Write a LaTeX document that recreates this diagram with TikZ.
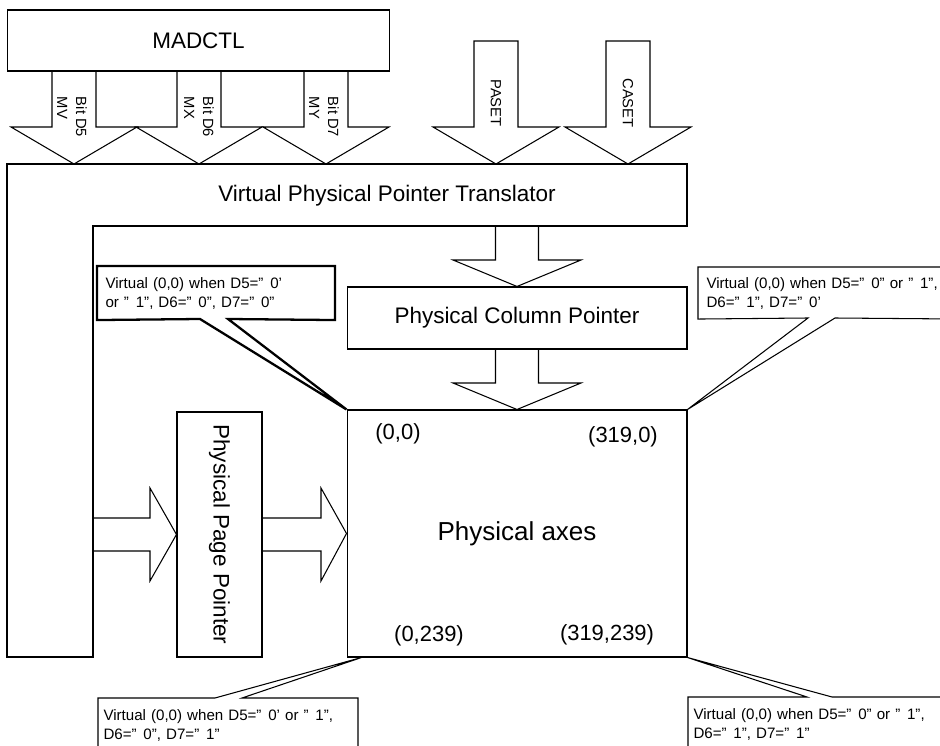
\documentclass[tikz,border=0pt]{standalone}
\usepackage{fontspec}
\setmainfont{Liberation Sans}
\usetikzlibrary{positioning}

% wide closing quote, as the datasheet prints it
\newcommand\wq{”\kern0.45em}

\begin{document}
\begin{tikzpicture}[x=0.02cm, y=-0.02cm, line width=0.6pt,
  label/.style={font=\fontsize{12.8}{15}\selectfont},
  box/.style={draw, inner sep=0pt, label},
  blockarrow/.style={draw, line join=miter},
  tag/.style={rotate=-90, align=left, inner sep=0pt, font=\fontsize{8.4}{10.8}\selectfont},
  corner/.style={font=\fontsize{12.5}{15}\selectfont},
  callout/.style={anchor=north west, align=left, inner xsep=0.16cm, inner ysep=0pt,
    font=\fontsize{8.6}{10.8}\selectfont}]

  \useasboundingbox (0,0) rectangle (940,746);

  % Register block at the top.
  \node[box, minimum width=7.66cm, minimum height=1.22cm] (madctl) at (198.5,40.5) {MADCTL};

  % Block arrows coming down into the translator.
  \foreach \cx/\ya in {74/71, 199/71, 326/71, 496/41, 628/41}
    \draw[blockarrow] ({\cx-22},\ya) -- ({\cx-22},127) -- ({\cx-63},127) -- (\cx,164)
      -- ({\cx+63},127) -- ({\cx+22},127) -- ({\cx+22},\ya) -- cycle;

  \node[tag] (bitfive) at (72,117) {Bit D5\\MV};
  \node[tag] (bitsix) at (199,117) {Bit D6\\MX};
  \node[tag] (bitseven) at (324,117) {Bit D7\\MY};
  \node[tag] (paset) at (496,103) {PASET};
  \node[tag] (caset) at (628,103) {CASET};

  % Translator (L-shaped block).
  \draw (7,164) -- (687,164) -- (687,226) -- (93,226) -- (93,657) -- (7,657) -- cycle;
  \node[label] (vppt) at (387,196) {Virtual Physical Pointer Translator};

  % Pointers and the physical axes.
  \node[box, minimum width=6.8cm, minimum height=1.24cm] (colptr) at (517,318)
    {Physical Column Pointer};
  \node[box, minimum width=6.8cm, minimum height=4.94cm, font=\fontsize{14.8}{17}\selectfont]
    (axes) at (517,533.5) {Physical axes};
  \node[box, rotate=-90, minimum width=4.9cm, minimum height=1.7cm] (pageptr) at (219.5,534.5)
    {Physical Page Pointer};

  \draw[blockarrow] (495.5,226) -- (495.5,260) -- (453,260) -- (colptr.north)
    -- (581,260) -- (538.5,260) -- (538.5,226);
  \draw[blockarrow] (495.5,349) -- (495.5,383) -- (453,383) -- (axes.north)
    -- (581,383) -- (538.5,383) -- (538.5,349);
  \draw[blockarrow] (93,518) -- (150,518) -- (150,488) -- (pageptr.south)
    -- (150,581) -- (150,551) -- (93,551);
  \draw[blockarrow] (262,518) -- (321,518) -- (321,488) -- (axes.west)
    -- (321,581) -- (321,551) -- (262,551);

  % Corner coordinates.
  \node[corner] (tl) at (398,434) {(0,0)};
  \node[corner] (tr) at (623,437) {(319,0)};
  \node[corner] (bl) at (429,636) {(0,239)};
  \node[corner] (br) at (607,635) {(319,239)};

  % Callouts.
  \node[callout, minimum width=4.74cm, minimum height=1.06cm, text width=4.42cm] (noteA)
    at (97,266) {Virtual (0,0) when D5=\wq 0’\\or \wq 1”, D6=\wq 0”, D7=\wq 0”};
  \coordinate (noteAl) at (200,319);
  \coordinate (noteAr) at (228,319);
  \draw[line width=1.3pt] (noteAl) -- (noteA.south west) -- (noteA.north west) -- (noteA.north east)
    -- (noteA.south east) -- (noteAr) -- (axes.north west) -- cycle;

  \node[callout, minimum width=5.24cm, minimum height=1.02cm, text width=4.92cm] (noteB)
    at (698,267) {Virtual (0,0) when D5=\wq 0” or \wq 1”,\\D6=\wq 1”, D7=\wq 0’};
  \coordinate (noteBl) at (808,318);
  \coordinate (noteBr) at (835,318);
  \draw (noteBl) -- (noteB.south west) -- (noteB.north west) -- (noteB.north east)
    -- (noteB.south east) -- (noteBr) -- (axes.north east) -- cycle;

  \node[callout, inner xsep=0.1cm, minimum width=5.18cm, minimum height=1.08cm, text width=4.98cm]
    (noteC) at (98,698) {Virtual (0,0) when D5=\wq 0’ or \wq 1”,\\D6=\wq 0”, D7=\wq 1”};
  \coordinate (noteCl) at (215,698);
  \coordinate (noteCr) at (242,698);
  \coordinate[xshift=0.3cm] (noteCtip) at (axes.south west);
  \draw (noteCl) -- (noteC.north west) -- (noteC.south west) -- (noteC.south east)
    -- (noteC.north east) -- (noteCr) -- (noteCtip) -- cycle;

  \node[callout, inner xsep=0.1cm, minimum width=5.44cm, minimum height=1.08cm, text width=5.24cm]
    (noteD) at (688,697) {Virtual (0,0) when D5=\wq 0” or \wq 1”,\\D6=\wq 1”, D7=\wq 1”};
  \coordinate (noteDl) at (807,697);
  \coordinate (noteDr) at (832,697);
  \draw (noteDl) -- (noteD.north west) -- (noteD.south west) -- (noteD.south east)
    -- (noteD.north east) -- (noteDr) -- (axes.south east) -- cycle;

\end{tikzpicture}
\end{document}
